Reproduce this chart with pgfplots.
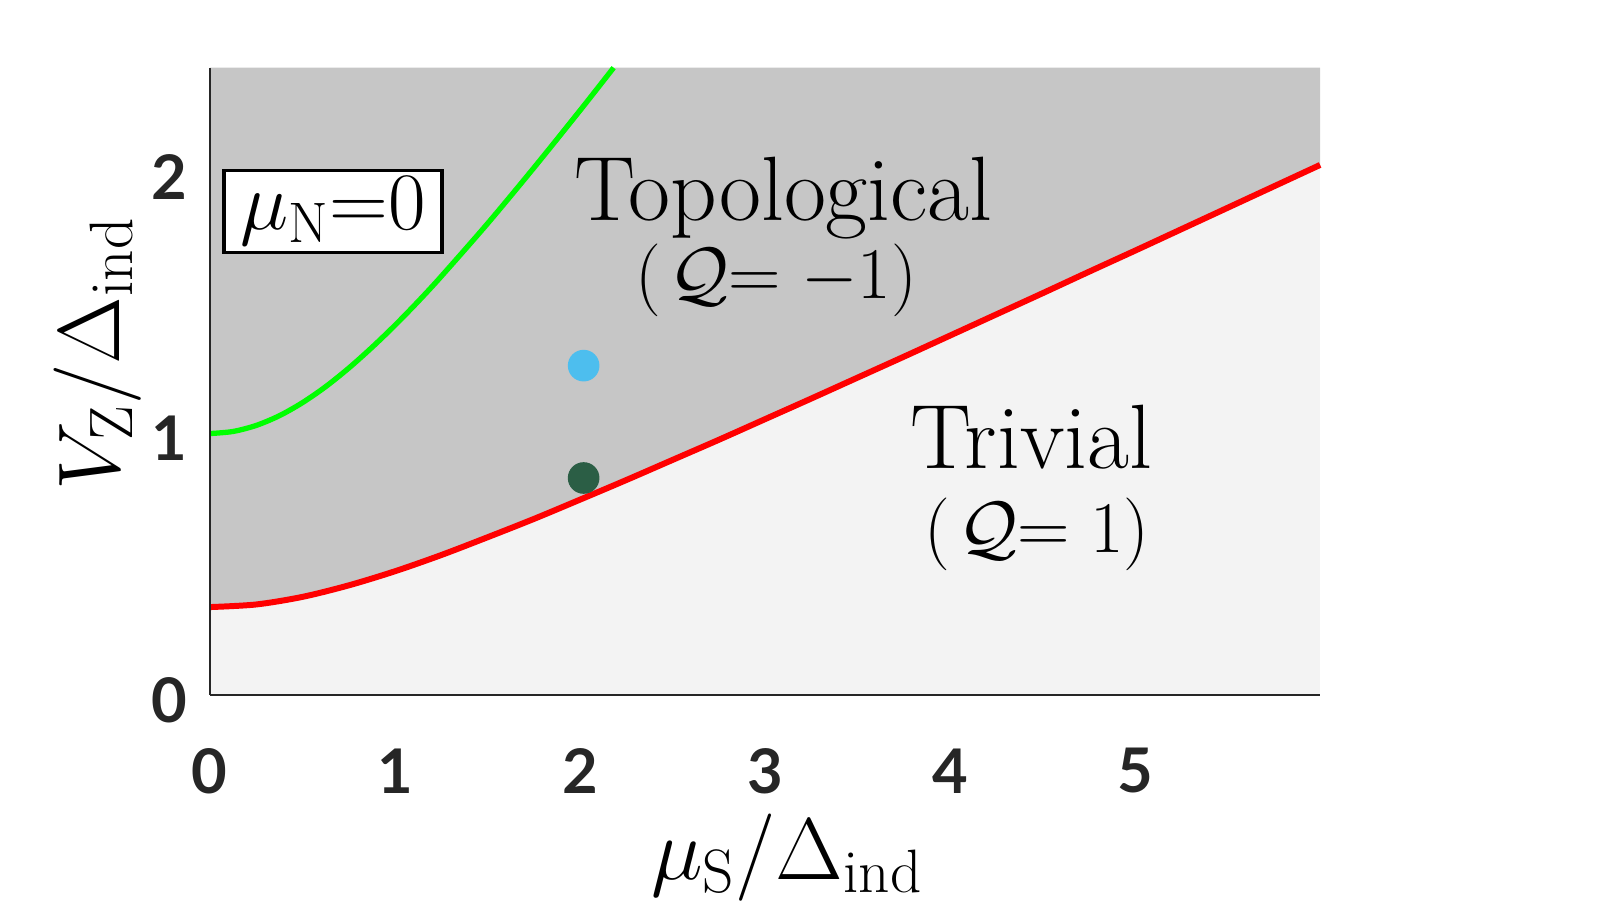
\documentclass[border=0pt]{standalone}
\usepackage{fix-cm}
\usepackage{fontspec}
\newfontfamily\tickfont{Lato}
\usepackage{pgfplots}
\pgfplotsset{compat=1.18}
\definecolor{topoGray}{HTML}{C6C6C6}
\definecolor{trivGray}{HTML}{F3F3F3}
\definecolor{axInk}{HTML}{262626}
\definecolor{dotBlue}{HTML}{4DBEEE}
\definecolor{dotGreen}{HTML}{2B5E45}
\newcommand{\bigtxt}{\fontsize{26}{30}\selectfont}
\newcommand{\qtxt}{\fontsize{20.7}{24}\selectfont}

% red: topological transition
\pgfplotstableread{
mu    vz
0.00  0.336
0.25  0.346
0.50  0.375
0.75  0.419
1.00  0.473
1.25  0.535
1.50  0.603
1.75  0.673
2.00  0.747
2.25  0.822
2.50  0.899
2.75  0.976
3.00  1.055
3.25  1.134
3.50  1.214
3.75  1.294
4.00  1.375
4.25  1.456
4.50  1.537
4.75  1.619
5.00  1.700
5.25  1.782
5.50  1.864
5.75  1.946
6.00  2.028
}\redline

% green curve
\pgfplotstableread{
mu     vz
0.000  1.000
0.125  1.008
0.250  1.031
0.375  1.068
0.500  1.118
0.625  1.179
0.750  1.250
0.875  1.329
1.000  1.414
1.125  1.505
1.250  1.601
1.500  1.803
1.750  2.016
2.000  2.236
2.182  2.400
}\greenline

\begin{document}
\begin{tikzpicture}
\begin{axis}[
  scale only axis, width=111mm, height=62.7mm,
  xmin=0, xmax=6, ymin=0, ymax=2.4,
  axis lines=left, axis line style={-, draw=axInk, line width=0.45pt},
  axis background/.style={fill=trivGray},
  xtick={0,1,2,3,4,5}, ytick={0,1,2},
  major tick length=0pt,
  /pgf/number format/assume math mode=true,
  ticklabel style={font=\tickfont\bfseries\fontsize{17.5}{20}\selectfont, text=axInk},
  xticklabel style={anchor=center, yshift=-7.6mm},
  yticklabel style={anchor=center, xshift=-4mm, yshift=-0.5mm},
  xlabel={$\mu_\mathrm{S}/\Delta_\mathrm{ind}$},
  ylabel={$V_\mathrm{Z}/\Delta_\mathrm{ind}$},
  label style={font=\fontsize{24.9}{30}\selectfont},
  xlabel style={at={(axis description cs:0.52,-0.259)}, anchor=center},
  ylabel style={at={(axis description cs:-0.101,0.544)}, anchor=center, rotate=0},
  clip=false, axis on top,
]
% topological region above the red line
\addplot[draw=none, fill=topoGray] table[x=mu, y=vz] {\redline} -- (axis cs:6,2.4) -- (axis cs:0,2.4) -- cycle;
\addplot[red, line width=1.7pt, smooth] table[x=mu, y=vz] {\redline};
\addplot[green, line width=1.5pt, smooth] table[x=mu, y=vz] {\greenline};
\addplot[only marks, mark=*, mark size=4.3pt, dotBlue] coordinates {(2.02,1.26)};
\addplot[only marks, mark=*, mark size=4.3pt, dotGreen] coordinates {(2.02,0.83)};

\node[font=\bigtxt] at (axis cs:3.10,1.90) {Topological};
\node[font=\qtxt] at (axis cs:3.06,1.585) {$(\mkern2mu\mathcal{Q}{=}\;{-1})$};
\node[font=\bigtxt] at (axis cs:4.44,0.985) {Trivial};
\node[font=\qtxt] at (axis cs:4.47,0.615) {$(\mkern2mu\mathcal{Q}{=}\;1)$};
\node[draw=black, fill=white, line width=1.1pt, inner xsep=1.6mm, inner ysep=0.3mm,
      minimum height=8.2mm, font=\fontsize{23.2}{27}\selectfont]
      at (axis cs:0.665,1.85) {$\mu_\mathrm{N}{=}0$};

\path (rel axis cs:-0.189,-0.349) rectangle (rel axis cs:1.271,1.108);
\end{axis}
\end{tikzpicture}
\end{document}
